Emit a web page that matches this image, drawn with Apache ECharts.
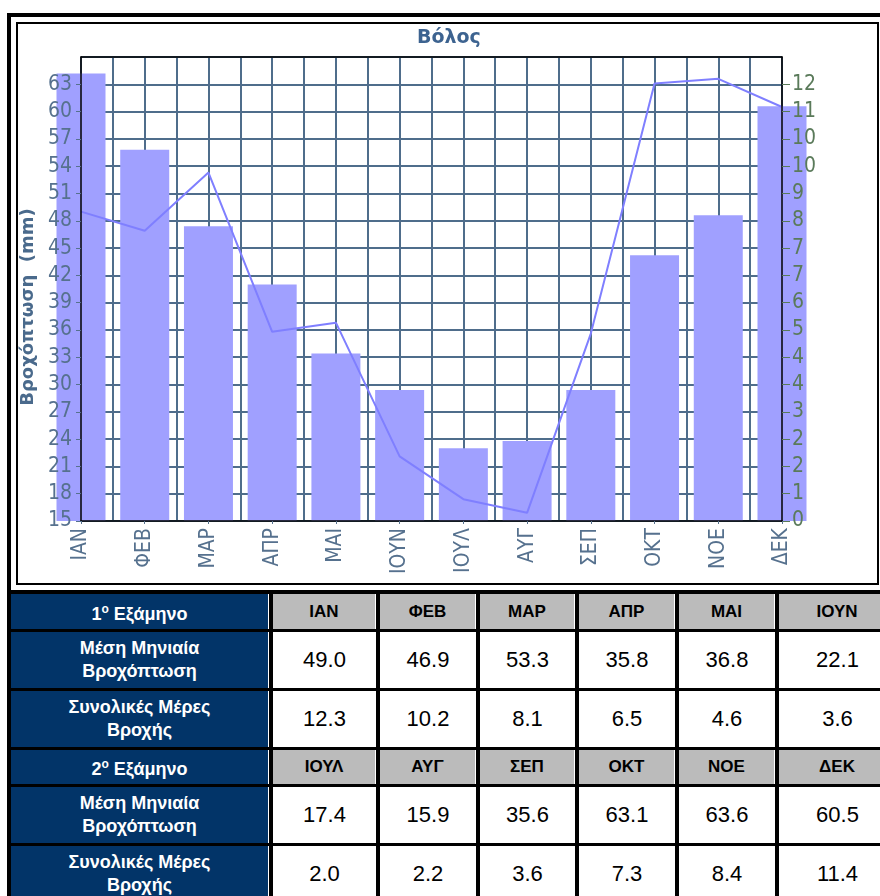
<!DOCTYPE html>
<html>
<head>
<meta charset="utf-8">
<script src="https://cdn.jsdelivr.net/npm/echarts@6/dist/echarts.min.js"></script>
<style>
html,body{margin:0;padding:0;width:880px;height:896px;overflow:hidden;background:#fff;position:relative}
#outer{position:absolute;left:7px;top:13px;width:900px;height:900px;background:#000}
#cell{position:absolute;left:11px;top:17px;width:900px;height:573px;background:#fff}
#inner{position:absolute;left:16px;top:22px;width:859px;height:559px;border:2px solid #000}
#chart{position:absolute;left:0;top:0;width:880px;height:590px}
#tbl{position:absolute;left:7px;top:591px;width:889px;border-collapse:separate;border-spacing:4px 3px;background:#000;table-layout:fixed;font-family:'Liberation Sans',Arial,sans-serif}
#tbl td{padding:0;text-align:center;vertical-align:middle;overflow:hidden;box-sizing:border-box}
#tbl td.nv{background:#023468;color:#fff;font-weight:bold;font-size:18px;line-height:23px;border-right:1px solid #fff}
#tbl td.hd{background:#bbbbbb;color:#000;font-weight:bold;font-size:17px;border-right:1px solid #fff}
#tbl td.vl{background:#fff;color:#000;font-size:22px}
</style>
</head>
<body>
<div id="outer"></div>
<div id="cell"></div>
<div id="inner"></div>
<div id="chart"></div>
<table id="tbl"></table>
<script>
// ---- data ----
const months = ['ΙΑΝ','ΦΕΒ','ΜΑΡ','ΑΠΡ','ΜΑΙ','ΙΟΥΝ','ΙΟΥΛ','ΑΥΓ','ΣΕΠ','ΟΚΤ','ΝΟΕ','ΔΕΚ'];
const rainMm = [49.0, 46.9, 53.3, 35.8, 36.8, 22.1, 17.4, 15.9, 35.6, 63.1, 63.6, 60.5];
const rainDays = [12.3, 10.2, 8.1, 6.5, 4.6, 3.6, 2.0, 2.2, 3.6, 7.3, 8.4, 11.4];
const rightTickLabels = ['0','1','2','2','3','4','4','5','6','7','7','8','9','10','10','11','12'];
const chartTitle = 'Βόλος';
const leftAxisName = 'Βροχόπτωση  (mm)';
const semesterTitles = ['1', '2'];
const rowMmLabel = ['Μέση Μηνιαία', 'Βροχόπτωση'];
const rowDaysLabel = ['Συνολικές Μέρες', 'Βροχής'];

// ---- chart ----
const slate = '#56718e';
const green = '#5a7a5a';
const gridColor = '#4f6d8b';
const labelFont = "'Liberation Sans Narrow','DejaVu Sans Condensed',sans-serif";
const chart = echarts.init(document.getElementById('chart'));
chart.setOption({
  animation: false,
  title: {
    text: chartTitle, left: 412, top: 24,
    textStyle: {fontFamily: 'DejaVu Sans', fontWeight: 'bold', fontSize: 19, color: '#3d6390'}
  },
  grid: {left: 81, top: 57, width: 701, height: 464},
  xAxis: [
    {
      type: 'category', data: months, boundaryGap: false, position: 'bottom', z: 10,
      axisLine: {lineStyle: {color: '#000', width: 1.5}},
      axisTick: {show: true, length: 3, lineStyle: {color: slate}},
      axisLabel: {rotate: 90, margin: 7, color: slate, fontFamily: labelFont, fontSize: 21, interval: 0},
      splitLine: {show: false}
    },
    {
      type: 'value', min: 0, max: 22, interval: 1, position: 'bottom', z: 0,
      axisLine: {show: false}, axisTick: {show: false}, axisLabel: {show: false},
      splitLine: {show: true, lineStyle: {color: gridColor, width: 2}}
    },
    {
      type: 'category', data: months, boundaryGap: false, position: 'top', z: 10,
      axisLine: {lineStyle: {color: '#000', width: 1.5}},
      axisTick: {show: false}, axisLabel: {show: false}, splitLine: {show: false}
    }
  ],
  yAxis: [
    {
      type: 'value', min: 15, max: 66, interval: 3, position: 'left', z: 10,
      name: leftAxisName, nameLocation: 'middle', nameRotate: 90, nameGap: 43,
      nameTextStyle: {fontFamily: 'DejaVu Sans', fontWeight: 'bold', fontSize: 18, color: '#4a6a8c', padding: [0, 36, 0, 0]},
      axisLine: {show: true, lineStyle: {color: '#000', width: 1.5}},
      axisTick: {show: true, length: 5, lineStyle: {color: slate}},
      axisLabel: {color: slate, fontFamily: labelFont, fontSize: 21, margin: 9, showMaxLabel: false},
      splitLine: {show: false}
    },
    {
      type: 'value', min: 0, max: 12.75, interval: 0.75, position: 'right', z: 10,
      axisLine: {show: true, lineStyle: {color: '#000', width: 1.5}},
      axisTick: {show: true, length: 8, lineStyle: {color: green}},
      axisLabel: {
        color: green, fontFamily: labelFont, fontSize: 21, margin: 10, showMaxLabel: false,
        formatter: function (v, i) { return rightTickLabels[i] !== undefined ? rightTickLabels[i] : ''; }
      },
      splitLine: {show: false}
    },
    {
      type: 'value', min: 15, max: 66, interval: 3, position: 'left', z: 0,
      axisLine: {show: false}, axisTick: {show: false}, axisLabel: {show: false},
      splitLine: {show: true, lineStyle: {color: gridColor, width: 2}}
    }
  ],
  series: [
    {
      type: 'bar', name: rowDaysLabel.join(' '), data: rainDays, xAxisIndex: 0, yAxisIndex: 1,
      barWidth: 49, clip: true, itemStyle: {color: '#a0a0ff'}, z: 2
    },
    {
      type: 'line', name: rowMmLabel.join(' '), data: rainMm, xAxisIndex: 0, yAxisIndex: 0,
      symbol: 'none', lineStyle: {color: '#7f7fff', width: 2}, z: 3
    }
  ]
});

// ---- table ----
const tbl = document.getElementById('tbl');
const cg = document.createElement('colgroup');
[258, 103, 96, 95, 96, 96, 117].forEach(w => {
  const c = document.createElement('col'); c.style.width = w + 'px'; cg.appendChild(c);
});
tbl.appendChild(cg);
function navyCell(tr, lines) {
  const td = document.createElement('td'); td.className = 'nv';
  lines.forEach((l, k) => { if (k) td.appendChild(document.createElement('br')); td.appendChild(document.createTextNode(l)); });
  tr.appendChild(td);
}
for (let s = 0; s < 2; s++) {
  const idx = [0,1,2,3,4,5].map(k => k + s * 6);
  const h = document.createElement('tr'); h.style.height = (s ? 34 : 35) + 'px';
  const t = document.createElement('td'); t.className = 'nv';
  t.appendChild(document.createTextNode(semesterTitles[s]));
  const sup = document.createElement('sup'); sup.textContent = 'o'; sup.style.fontSize = '12px';
  t.appendChild(sup);
  t.appendChild(document.createTextNode(' Εξάμηνο'));
  h.appendChild(t);
  idx.forEach(i => { const td = document.createElement('td'); td.className = 'hd'; td.textContent = months[i]; h.appendChild(td); });
  tbl.appendChild(h);
  [[rowMmLabel, rainMm], [rowDaysLabel, rainDays]].forEach(([lab, arr]) => {
    const tr = document.createElement('tr'); tr.style.height = '56px';
    navyCell(tr, lab);
    idx.forEach(i => { const td = document.createElement('td'); td.className = 'vl'; td.textContent = arr[i].toFixed(1); tr.appendChild(td); });
    tbl.appendChild(tr);
  });
}
</script>
</body>
</html>
